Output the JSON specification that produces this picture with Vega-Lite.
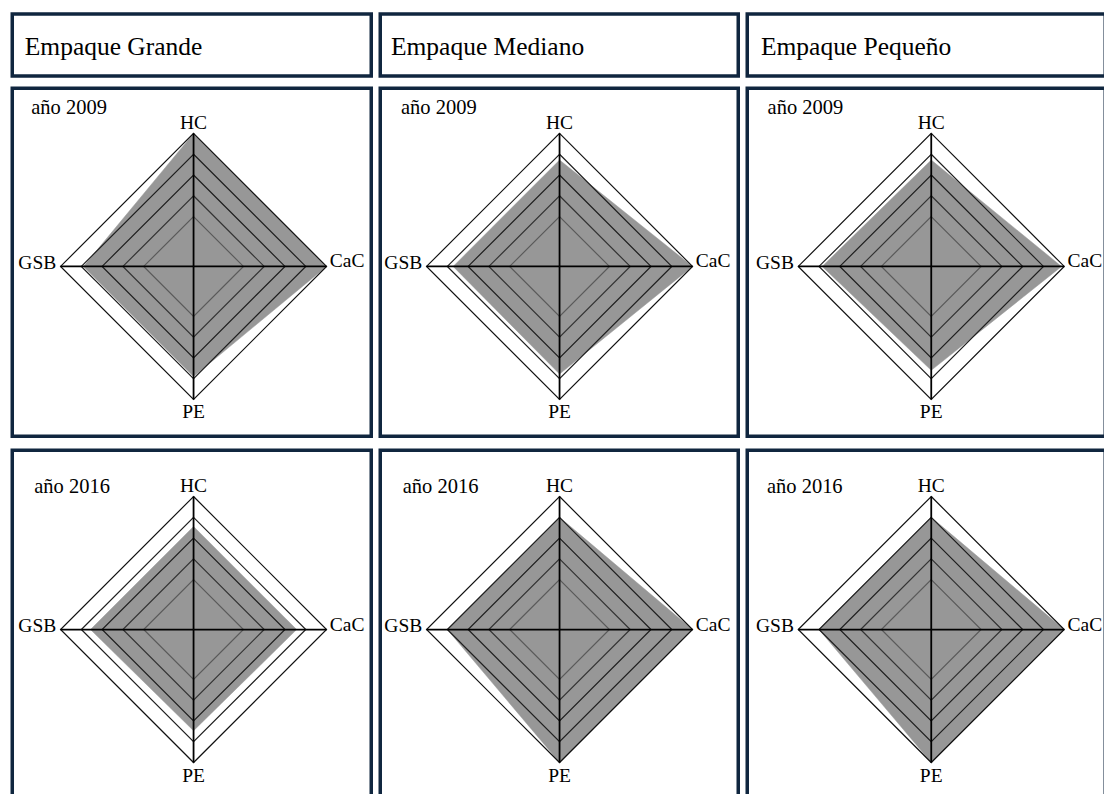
{
  "$schema": "https://vega.github.io/schema/vega-lite/v6.json",
  "background": "white",
  "padding": {"left": 10.25, "top": 11.95, "right": 0, "bottom": 0},
  "datasets": {
    "datos": [
      {"tipo": "valor", "empaque": "Grande", "anio": 2009, "eje": "HC", "valor": 5},
      {"tipo": "valor", "empaque": "Grande", "anio": 2009, "eje": "CaC", "valor": 5},
      {"tipo": "valor", "empaque": "Grande", "anio": 2009, "eje": "PE", "valor": 3.9},
      {"tipo": "valor", "empaque": "Grande", "anio": 2009, "eje": "GSB", "valor": 3.9},
      {"tipo": "valor", "empaque": "Mediano", "anio": 2009, "eje": "HC", "valor": 3.72},
      {"tipo": "valor", "empaque": "Mediano", "anio": 2009, "eje": "CaC", "valor": 5},
      {"tipo": "valor", "empaque": "Mediano", "anio": 2009, "eje": "PE", "valor": 3.78},
      {"tipo": "valor", "empaque": "Mediano", "anio": 2009, "eje": "GSB", "valor": 3.72},
      {"tipo": "valor", "empaque": "Pequeño", "anio": 2009, "eje": "HC", "valor": 3.72},
      {"tipo": "valor", "empaque": "Pequeño", "anio": 2009, "eje": "CaC", "valor": 4.87},
      {"tipo": "valor", "empaque": "Pequeño", "anio": 2009, "eje": "PE", "valor": 3.6},
      {"tipo": "valor", "empaque": "Pequeño", "anio": 2009, "eje": "GSB", "valor": 3.85},
      {"tipo": "valor", "empaque": "Grande", "anio": 2016, "eje": "HC", "valor": 3.56},
      {"tipo": "valor", "empaque": "Grande", "anio": 2016, "eje": "CaC", "valor": 3.56},
      {"tipo": "valor", "empaque": "Grande", "anio": 2016, "eje": "PE", "valor": 3.47},
      {"tipo": "valor", "empaque": "Grande", "anio": 2016, "eje": "GSB", "valor": 3.56},
      {"tipo": "valor", "empaque": "Mediano", "anio": 2016, "eje": "HC", "valor": 4},
      {"tipo": "valor", "empaque": "Mediano", "anio": 2016, "eje": "CaC", "valor": 5},
      {"tipo": "valor", "empaque": "Mediano", "anio": 2016, "eje": "PE", "valor": 5},
      {"tipo": "valor", "empaque": "Mediano", "anio": 2016, "eje": "GSB", "valor": 4},
      {"tipo": "valor", "empaque": "Pequeño", "anio": 2016, "eje": "HC", "valor": 4},
      {"tipo": "valor", "empaque": "Pequeño", "anio": 2016, "eje": "CaC", "valor": 5},
      {"tipo": "valor", "empaque": "Pequeño", "anio": 2016, "eje": "PE", "valor": 5},
      {"tipo": "valor", "empaque": "Pequeño", "anio": 2016, "eje": "GSB", "valor": 4},
      {"tipo": "anillo", "eje": "HC", "valor": 1},
      {"tipo": "anillo", "eje": "CaC", "valor": 1},
      {"tipo": "anillo", "eje": "PE", "valor": 1},
      {"tipo": "anillo", "eje": "GSB", "valor": 1},
      {"tipo": "anillo", "eje": "HC", "valor": 2},
      {"tipo": "anillo", "eje": "CaC", "valor": 2},
      {"tipo": "anillo", "eje": "PE", "valor": 2},
      {"tipo": "anillo", "eje": "GSB", "valor": 2},
      {"tipo": "anillo", "eje": "HC", "valor": 3},
      {"tipo": "anillo", "eje": "CaC", "valor": 3},
      {"tipo": "anillo", "eje": "PE", "valor": 3},
      {"tipo": "anillo", "eje": "GSB", "valor": 3},
      {"tipo": "anillo", "eje": "HC", "valor": 4},
      {"tipo": "anillo", "eje": "CaC", "valor": 4},
      {"tipo": "anillo", "eje": "PE", "valor": 4},
      {"tipo": "anillo", "eje": "GSB", "valor": 4},
      {"tipo": "anillo", "eje": "HC", "valor": 5},
      {"tipo": "anillo", "eje": "CaC", "valor": 5},
      {"tipo": "anillo", "eje": "PE", "valor": 5},
      {"tipo": "anillo", "eje": "GSB", "valor": 5}
    ]
  },
  "vconcat": [
    {
      "hconcat": [
        {"width": 359, "height": 62, "title": {"text": "Empaque Grande", "offset": -66.8, "dx": 12.5, "baseline": "alphabetic", "fontSize": 25.5}, "data": {"values": [{"empaque": "Grande"}]}, "mark": {"type": "point", "opacity": 0, "size": 1, "strokeWidth": 0}, "encoding": {"x": {"datum": 0, "type": "quantitative", "axis": null, "scale": {"domain": [-1, 1]}}, "y": {"datum": 0, "type": "quantitative", "axis": null, "scale": {"domain": [-1, 1]}}}},
        {"width": 358, "height": 62, "title": {"text": "Empaque Mediano", "offset": -66.8, "dx": 10.7, "baseline": "alphabetic", "fontSize": 25.5}, "data": {"values": [{"empaque": "Mediano"}]}, "mark": {"type": "point", "opacity": 0, "size": 1, "strokeWidth": 0}, "encoding": {"x": {"datum": 0, "type": "quantitative", "axis": null, "scale": {"domain": [-1, 1]}}, "y": {"datum": 0, "type": "quantitative", "axis": null, "scale": {"domain": [-1, 1]}}}},
        {"width": 358, "height": 62, "title": {"text": "Empaque Pequeño", "offset": -66.8, "dx": 13.7, "baseline": "alphabetic", "fontSize": 25.5}, "data": {"values": [{"empaque": "Pequeño"}]}, "mark": {"type": "point", "opacity": 0, "size": 1, "strokeWidth": 0}, "encoding": {"x": {"datum": 0, "type": "quantitative", "axis": null, "scale": {"domain": [-1, 1]}}, "y": {"datum": 0, "type": "quantitative", "axis": null, "scale": {"domain": [-1, 1]}}}}
      ],
      "spacing": 9,
      "bounds": "flush"
    },
    {
      "vconcat": [
        {
          "hconcat": [
            {
              "width": 359, "height": 348,
              "title": {"text": "año 2009", "offset": -46.3, "dx": 19, "baseline": "alphabetic", "fontSize": 20.5},
              "data": {"name": "datos"},
              "transform": [
                {"calculate": "indexof(['HC','CaC','PE','GSB'], datum.eje)", "as": "orden"},
                {"calculate": "(datum.valor + 1.4) / 6.4", "as": "r"},
                {"calculate": "datum.eje === 'CaC' ? datum.r : (datum.eje === 'GSB' ? -datum.r : 0)", "as": "px"},
                {"calculate": "datum.eje === 'HC' ? datum.r : (datum.eje === 'PE' ? -datum.r : 0)", "as": "py"}
              ],
              "encoding": {
                "x": {"field": "px", "type": "quantitative", "scale": {"domain": [-1.3632, 1.3361], "nice": false, "zero": false}, "axis": null},
                "y": {"field": "py", "type": "quantitative", "scale": {"domain": [-1.2767, 1.3398], "nice": false, "zero": false}, "axis": null}
              },
              "layer": [
                {"transform": [{"filter": "datum.tipo === 'valor' && datum.empaque === 'Grande' && datum.anio === 2009"}], "mark": {"type": "line", "interpolate": "linear-closed", "fill": "#979797", "stroke": "#979797", "strokeWidth": 0.5}, "encoding": {"order": {"field": "orden", "type": "quantitative"}}},
                {"transform": [{"filter": "datum.tipo === 'anillo'"}], "mark": {"type": "line", "interpolate": "linear-closed", "strokeWidth": 1.2}, "encoding": {"order": {"field": "orden", "type": "quantitative"}, "detail": {"field": "valor", "type": "ordinal"}, "stroke": {"field": "valor", "type": "ordinal", "scale": {"domain": [1, 2, 3, 4, 5], "range": ["#5a5a5a", "#333333", "#1e1e1e", "#1e1e1e", "#111111"]}, "legend": null}}},
                {"transform": [{"filter": "datum.tipo === 'anillo' && datum.valor === 5"}], "mark": {"type": "rule", "color": "#000000", "strokeWidth": 1.8}, "encoding": {"x2": {"datum": 0}, "y2": {"datum": 0}}},
                {"transform": [{"filter": "datum.tipo === 'anillo' && datum.valor === 5 && datum.eje === 'HC'"}], "mark": {"type": "text", "align": "center", "baseline": "alphabetic", "dy": -4.4}, "encoding": {"text": {"field": "eje"}}},
                {"transform": [{"filter": "datum.tipo === 'anillo' && datum.valor === 5 && datum.eje === 'CaC'"}], "mark": {"type": "text", "align": "left", "baseline": "alphabetic", "dx": 3.3, "dy": 1}, "encoding": {"text": {"field": "eje"}}},
                {"transform": [{"filter": "datum.tipo === 'anillo' && datum.valor === 5 && datum.eje === 'PE'"}], "mark": {"type": "text", "align": "center", "baseline": "alphabetic", "dy": 19}, "encoding": {"text": {"field": "eje"}}},
                {"transform": [{"filter": "datum.tipo === 'anillo' && datum.valor === 5 && datum.eje === 'GSB'"}], "mark": {"type": "text", "align": "right", "baseline": "alphabetic", "dx": -4.3, "dy": 2.6}, "encoding": {"text": {"field": "eje"}}}
              ]
            },
            {
              "width": 358, "height": 348,
              "title": {"text": "año 2009", "offset": -46.3, "dx": 20.7, "baseline": "alphabetic", "fontSize": 20.5},
              "data": {"name": "datos"},
              "transform": [
                {"calculate": "indexof(['HC','CaC','PE','GSB'], datum.eje)", "as": "orden"},
                {"calculate": "(datum.valor + 1.4) / 6.4", "as": "r"},
                {"calculate": "datum.eje === 'CaC' ? datum.r : (datum.eje === 'GSB' ? -datum.r : 0)", "as": "px"},
                {"calculate": "datum.eje === 'HC' ? datum.r : (datum.eje === 'PE' ? -datum.r : 0)", "as": "py"}
              ],
              "encoding": {
                "x": {"field": "px", "type": "quantitative", "scale": {"domain": [-1.3481, 1.3436], "nice": false, "zero": false}, "axis": null},
                "y": {"field": "py", "type": "quantitative", "scale": {"domain": [-1.2767, 1.3398], "nice": false, "zero": false}, "axis": null}
              },
              "layer": [
                {"transform": [{"filter": "datum.tipo === 'valor' && datum.empaque === 'Mediano' && datum.anio === 2009"}], "mark": {"type": "line", "interpolate": "linear-closed", "fill": "#979797", "stroke": "#979797", "strokeWidth": 0.5}, "encoding": {"order": {"field": "orden", "type": "quantitative"}}},
                {"transform": [{"filter": "datum.tipo === 'anillo'"}], "mark": {"type": "line", "interpolate": "linear-closed", "strokeWidth": 1.2}, "encoding": {"order": {"field": "orden", "type": "quantitative"}, "detail": {"field": "valor", "type": "ordinal"}, "stroke": {"field": "valor", "type": "ordinal", "scale": {"domain": [1, 2, 3, 4, 5], "range": ["#5a5a5a", "#333333", "#1e1e1e", "#1e1e1e", "#111111"]}, "legend": null}}},
                {"transform": [{"filter": "datum.tipo === 'anillo' && datum.valor === 5"}], "mark": {"type": "rule", "color": "#000000", "strokeWidth": 1.8}, "encoding": {"x2": {"datum": 0}, "y2": {"datum": 0}}},
                {"transform": [{"filter": "datum.tipo === 'anillo' && datum.valor === 5 && datum.eje === 'HC'"}], "mark": {"type": "text", "align": "center", "baseline": "alphabetic", "dy": -4.4}, "encoding": {"text": {"field": "eje"}}},
                {"transform": [{"filter": "datum.tipo === 'anillo' && datum.valor === 5 && datum.eje === 'CaC'"}], "mark": {"type": "text", "align": "left", "baseline": "alphabetic", "dx": 3.3, "dy": 1}, "encoding": {"text": {"field": "eje"}}},
                {"transform": [{"filter": "datum.tipo === 'anillo' && datum.valor === 5 && datum.eje === 'PE'"}], "mark": {"type": "text", "align": "center", "baseline": "alphabetic", "dy": 19}, "encoding": {"text": {"field": "eje"}}},
                {"transform": [{"filter": "datum.tipo === 'anillo' && datum.valor === 5 && datum.eje === 'GSB'"}], "mark": {"type": "text", "align": "right", "baseline": "alphabetic", "dx": -4.3, "dy": 2.6}, "encoding": {"text": {"field": "eje"}}}
              ]
            },
            {
              "width": 358, "height": 348,
              "title": {"text": "año 2009", "offset": -46.3, "dx": 20.3, "baseline": "alphabetic", "fontSize": 20.5},
              "data": {"name": "datos"},
              "transform": [
                {"calculate": "indexof(['HC','CaC','PE','GSB'], datum.eje)", "as": "orden"},
                {"calculate": "(datum.valor + 1.4) / 6.4", "as": "r"},
                {"calculate": "datum.eje === 'CaC' ? datum.r : (datum.eje === 'GSB' ? -datum.r : 0)", "as": "px"},
                {"calculate": "datum.eje === 'HC' ? datum.r : (datum.eje === 'PE' ? -datum.r : 0)", "as": "py"}
              ],
              "encoding": {
                "x": {"field": "px", "type": "quantitative", "scale": {"domain": [-1.3835, 1.3083], "nice": false, "zero": false}, "axis": null},
                "y": {"field": "py", "type": "quantitative", "scale": {"domain": [-1.2767, 1.3398], "nice": false, "zero": false}, "axis": null}
              },
              "layer": [
                {"transform": [{"filter": "datum.tipo === 'valor' && datum.empaque === 'Pequeño' && datum.anio === 2009"}], "mark": {"type": "line", "interpolate": "linear-closed", "fill": "#979797", "stroke": "#979797", "strokeWidth": 0.5}, "encoding": {"order": {"field": "orden", "type": "quantitative"}}},
                {"transform": [{"filter": "datum.tipo === 'anillo'"}], "mark": {"type": "line", "interpolate": "linear-closed", "strokeWidth": 1.2}, "encoding": {"order": {"field": "orden", "type": "quantitative"}, "detail": {"field": "valor", "type": "ordinal"}, "stroke": {"field": "valor", "type": "ordinal", "scale": {"domain": [1, 2, 3, 4, 5], "range": ["#5a5a5a", "#333333", "#1e1e1e", "#1e1e1e", "#111111"]}, "legend": null}}},
                {"transform": [{"filter": "datum.tipo === 'anillo' && datum.valor === 5"}], "mark": {"type": "rule", "color": "#000000", "strokeWidth": 1.8}, "encoding": {"x2": {"datum": 0}, "y2": {"datum": 0}}},
                {"transform": [{"filter": "datum.tipo === 'anillo' && datum.valor === 5 && datum.eje === 'HC'"}], "mark": {"type": "text", "align": "center", "baseline": "alphabetic", "dy": -4.4}, "encoding": {"text": {"field": "eje"}}},
                {"transform": [{"filter": "datum.tipo === 'anillo' && datum.valor === 5 && datum.eje === 'CaC'"}], "mark": {"type": "text", "align": "left", "baseline": "alphabetic", "dx": 3.3, "dy": 1}, "encoding": {"text": {"field": "eje"}}},
                {"transform": [{"filter": "datum.tipo === 'anillo' && datum.valor === 5 && datum.eje === 'PE'"}], "mark": {"type": "text", "align": "center", "baseline": "alphabetic", "dy": 19}, "encoding": {"text": {"field": "eje"}}},
                {"transform": [{"filter": "datum.tipo === 'anillo' && datum.valor === 5 && datum.eje === 'GSB'"}], "mark": {"type": "text", "align": "right", "baseline": "alphabetic", "dx": -4.3, "dy": 2.6}, "encoding": {"text": {"field": "eje"}}}
              ]
            }
          ],
          "spacing": 9,
          "bounds": "flush"
        },
        {
          "hconcat": [
            {
              "width": 359, "height": 348,
              "title": {"text": "año 2016", "offset": -62.7, "dx": 22, "baseline": "alphabetic", "fontSize": 20.5},
              "data": {"name": "datos"},
              "transform": [
                {"calculate": "indexof(['HC','CaC','PE','GSB'], datum.eje)", "as": "orden"},
                {"calculate": "(datum.valor + 1.4) / 6.4", "as": "r"},
                {"calculate": "datum.eje === 'CaC' ? datum.r : (datum.eje === 'GSB' ? -datum.r : 0)", "as": "px"},
                {"calculate": "datum.eje === 'HC' ? datum.r : (datum.eje === 'PE' ? -datum.r : 0)", "as": "py"}
              ],
              "encoding": {
                "x": {"field": "px", "type": "quantitative", "scale": {"domain": [-1.3632, 1.3361], "nice": false, "zero": false}, "axis": null},
                "y": {"field": "py", "type": "quantitative", "scale": {"domain": [-1.2692, 1.3474], "nice": false, "zero": false}, "axis": null}
              },
              "layer": [
                {"transform": [{"filter": "datum.tipo === 'valor' && datum.empaque === 'Grande' && datum.anio === 2016"}], "mark": {"type": "line", "interpolate": "linear-closed", "fill": "#979797", "stroke": "#979797", "strokeWidth": 0.5}, "encoding": {"order": {"field": "orden", "type": "quantitative"}}},
                {"transform": [{"filter": "datum.tipo === 'anillo'"}], "mark": {"type": "line", "interpolate": "linear-closed", "strokeWidth": 1.2}, "encoding": {"order": {"field": "orden", "type": "quantitative"}, "detail": {"field": "valor", "type": "ordinal"}, "stroke": {"field": "valor", "type": "ordinal", "scale": {"domain": [1, 2, 3, 4, 5], "range": ["#5a5a5a", "#333333", "#1e1e1e", "#1e1e1e", "#111111"]}, "legend": null}}},
                {"transform": [{"filter": "datum.tipo === 'anillo' && datum.valor === 5"}], "mark": {"type": "rule", "color": "#000000", "strokeWidth": 1.8}, "encoding": {"x2": {"datum": 0}, "y2": {"datum": 0}}},
                {"transform": [{"filter": "datum.tipo === 'anillo' && datum.valor === 5 && datum.eje === 'HC'"}], "mark": {"type": "text", "align": "center", "baseline": "alphabetic", "dy": -4.4}, "encoding": {"text": {"field": "eje"}}},
                {"transform": [{"filter": "datum.tipo === 'anillo' && datum.valor === 5 && datum.eje === 'CaC'"}], "mark": {"type": "text", "align": "left", "baseline": "alphabetic", "dx": 3.3, "dy": 1}, "encoding": {"text": {"field": "eje"}}},
                {"transform": [{"filter": "datum.tipo === 'anillo' && datum.valor === 5 && datum.eje === 'PE'"}], "mark": {"type": "text", "align": "center", "baseline": "alphabetic", "dy": 19}, "encoding": {"text": {"field": "eje"}}},
                {"transform": [{"filter": "datum.tipo === 'anillo' && datum.valor === 5 && datum.eje === 'GSB'"}], "mark": {"type": "text", "align": "right", "baseline": "alphabetic", "dx": -4.3, "dy": 2.6}, "encoding": {"text": {"field": "eje"}}}
              ]
            },
            {
              "width": 358, "height": 348,
              "title": {"text": "año 2016", "offset": -62.7, "dx": 22.5, "baseline": "alphabetic", "fontSize": 20.5},
              "data": {"name": "datos"},
              "transform": [
                {"calculate": "indexof(['HC','CaC','PE','GSB'], datum.eje)", "as": "orden"},
                {"calculate": "(datum.valor + 1.4) / 6.4", "as": "r"},
                {"calculate": "datum.eje === 'CaC' ? datum.r : (datum.eje === 'GSB' ? -datum.r : 0)", "as": "px"},
                {"calculate": "datum.eje === 'HC' ? datum.r : (datum.eje === 'PE' ? -datum.r : 0)", "as": "py"}
              ],
              "encoding": {
                "x": {"field": "px", "type": "quantitative", "scale": {"domain": [-1.3481, 1.3436], "nice": false, "zero": false}, "axis": null},
                "y": {"field": "py", "type": "quantitative", "scale": {"domain": [-1.2692, 1.3474], "nice": false, "zero": false}, "axis": null}
              },
              "layer": [
                {"transform": [{"filter": "datum.tipo === 'valor' && datum.empaque === 'Mediano' && datum.anio === 2016"}], "mark": {"type": "line", "interpolate": "linear-closed", "fill": "#979797", "stroke": "#979797", "strokeWidth": 0.5}, "encoding": {"order": {"field": "orden", "type": "quantitative"}}},
                {"transform": [{"filter": "datum.tipo === 'anillo'"}], "mark": {"type": "line", "interpolate": "linear-closed", "strokeWidth": 1.2}, "encoding": {"order": {"field": "orden", "type": "quantitative"}, "detail": {"field": "valor", "type": "ordinal"}, "stroke": {"field": "valor", "type": "ordinal", "scale": {"domain": [1, 2, 3, 4, 5], "range": ["#5a5a5a", "#333333", "#1e1e1e", "#1e1e1e", "#111111"]}, "legend": null}}},
                {"transform": [{"filter": "datum.tipo === 'anillo' && datum.valor === 5"}], "mark": {"type": "rule", "color": "#000000", "strokeWidth": 1.8}, "encoding": {"x2": {"datum": 0}, "y2": {"datum": 0}}},
                {"transform": [{"filter": "datum.tipo === 'anillo' && datum.valor === 5 && datum.eje === 'HC'"}], "mark": {"type": "text", "align": "center", "baseline": "alphabetic", "dy": -4.4}, "encoding": {"text": {"field": "eje"}}},
                {"transform": [{"filter": "datum.tipo === 'anillo' && datum.valor === 5 && datum.eje === 'CaC'"}], "mark": {"type": "text", "align": "left", "baseline": "alphabetic", "dx": 3.3, "dy": 1}, "encoding": {"text": {"field": "eje"}}},
                {"transform": [{"filter": "datum.tipo === 'anillo' && datum.valor === 5 && datum.eje === 'PE'"}], "mark": {"type": "text", "align": "center", "baseline": "alphabetic", "dy": 19}, "encoding": {"text": {"field": "eje"}}},
                {"transform": [{"filter": "datum.tipo === 'anillo' && datum.valor === 5 && datum.eje === 'GSB'"}], "mark": {"type": "text", "align": "right", "baseline": "alphabetic", "dx": -4.3, "dy": 2.6}, "encoding": {"text": {"field": "eje"}}}
              ]
            },
            {
              "width": 358, "height": 348,
              "title": {"text": "año 2016", "offset": -62.7, "dx": 19.7, "baseline": "alphabetic", "fontSize": 20.5},
              "data": {"name": "datos"},
              "transform": [
                {"calculate": "indexof(['HC','CaC','PE','GSB'], datum.eje)", "as": "orden"},
                {"calculate": "(datum.valor + 1.4) / 6.4", "as": "r"},
                {"calculate": "datum.eje === 'CaC' ? datum.r : (datum.eje === 'GSB' ? -datum.r : 0)", "as": "px"},
                {"calculate": "datum.eje === 'HC' ? datum.r : (datum.eje === 'PE' ? -datum.r : 0)", "as": "py"}
              ],
              "encoding": {
                "x": {"field": "px", "type": "quantitative", "scale": {"domain": [-1.3835, 1.3083], "nice": false, "zero": false}, "axis": null},
                "y": {"field": "py", "type": "quantitative", "scale": {"domain": [-1.2692, 1.3474], "nice": false, "zero": false}, "axis": null}
              },
              "layer": [
                {"transform": [{"filter": "datum.tipo === 'valor' && datum.empaque === 'Pequeño' && datum.anio === 2016"}], "mark": {"type": "line", "interpolate": "linear-closed", "fill": "#979797", "stroke": "#979797", "strokeWidth": 0.5}, "encoding": {"order": {"field": "orden", "type": "quantitative"}}},
                {"transform": [{"filter": "datum.tipo === 'anillo'"}], "mark": {"type": "line", "interpolate": "linear-closed", "strokeWidth": 1.2}, "encoding": {"order": {"field": "orden", "type": "quantitative"}, "detail": {"field": "valor", "type": "ordinal"}, "stroke": {"field": "valor", "type": "ordinal", "scale": {"domain": [1, 2, 3, 4, 5], "range": ["#5a5a5a", "#333333", "#1e1e1e", "#1e1e1e", "#111111"]}, "legend": null}}},
                {"transform": [{"filter": "datum.tipo === 'anillo' && datum.valor === 5"}], "mark": {"type": "rule", "color": "#000000", "strokeWidth": 1.8}, "encoding": {"x2": {"datum": 0}, "y2": {"datum": 0}}},
                {"transform": [{"filter": "datum.tipo === 'anillo' && datum.valor === 5 && datum.eje === 'HC'"}], "mark": {"type": "text", "align": "center", "baseline": "alphabetic", "dy": -4.4}, "encoding": {"text": {"field": "eje"}}},
                {"transform": [{"filter": "datum.tipo === 'anillo' && datum.valor === 5 && datum.eje === 'CaC'"}], "mark": {"type": "text", "align": "left", "baseline": "alphabetic", "dx": 3.3, "dy": 1}, "encoding": {"text": {"field": "eje"}}},
                {"transform": [{"filter": "datum.tipo === 'anillo' && datum.valor === 5 && datum.eje === 'PE'"}], "mark": {"type": "text", "align": "center", "baseline": "alphabetic", "dy": 19}, "encoding": {"text": {"field": "eje"}}},
                {"transform": [{"filter": "datum.tipo === 'anillo' && datum.valor === 5 && datum.eje === 'GSB'"}], "mark": {"type": "text", "align": "right", "baseline": "alphabetic", "dx": -4.3, "dy": 2.6}, "encoding": {"text": {"field": "eje"}}}
              ]
            }
          ],
          "spacing": 9,
          "bounds": "flush"
        }
      ],
      "spacing": 10.1
    }
  ],
  "spacing": 8.3,
  "config": {
    "view": {"stroke": "#10263f", "strokeWidth": 3.5},
    "title": {"font": "Liberation Serif", "fontWeight": "normal", "color": "#000000", "anchor": "start", "frame": "group", "orient": "top"},
    "text": {"font": "Liberation Serif", "fontSize": 19.5, "color": "#000000"}
  }
}
